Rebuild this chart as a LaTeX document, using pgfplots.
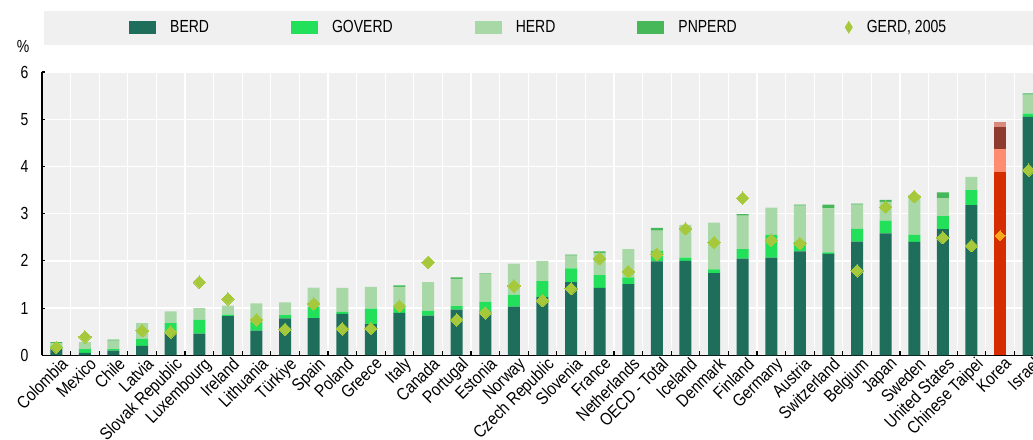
\documentclass[border=0pt]{standalone}
\usepackage{fontspec}
\setmainfont{Liberation Sans}[FakeStretch=0.8]
\newfontfamily\tickfont{Liberation Sans}[FakeStretch=0.86]
\usepackage{pgfplots}
\pgfplotsset{compat=1.18}
\definecolor{berd}{HTML}{1F6E5B}
\definecolor{gov}{HTML}{22E05A}
\definecolor{herd}{HTML}{A9D8A7}
\definecolor{pnp}{HTML}{47B85A}
\definecolor{gerd}{HTML}{A5C93A}
\definecolor{bggray}{HTML}{F0F0F0}
\definecolor{kberd}{HTML}{D62D00}
\definecolor{kgov}{HTML}{FF8C70}
\definecolor{kherd}{HTML}{8F3A2E}
\definecolor{kpnp}{HTML}{D98A7C}
\definecolor{korange}{HTML}{F7A81B}
\newcommand{\lbl}{\fontsize{17.5}{20}\selectfont}
\begin{document}
\begin{tikzpicture}[x=1pt,y=1pt]
\fill[bggray] (44,394) rectangle (1040,428);
\node[font=\lbl] at (23,393) {\%};
\begin{axis}[
  at={(42pt,83.7pt)}, anchor=south west,
  scale only axis, width=1001pt, height=283.3pt,
  xmin=-0.5, xmax=34.5, ymin=0, ymax=6,
  ybar stacked, bar width=12pt,
  axis background/.style={fill=bggray},
  axis x line*=bottom, axis y line*=left,
  axis line style={black, line width=1.3pt},
  ytick={0,1,2,3,4,5,6},
  ymajorgrids, major grid style={white, line width=1.3pt},
  xtick={0,...,34},
  minor xtick={-0.5,0.5,...,34.5},
  xminorgrids, minor x grid style={white, line width=1.3pt},
  major x tick style={draw=none},
  minor x tick style={black, line width=1.3pt},
  major y tick style={black, line width=1.1pt},
  tick align=inside, major tick length=3pt, minor tick length=4pt,
  /pgf/number format/assume math mode=true,
  yticklabel style={font=\lbl, xshift=-10pt},
  xticklabel style={font=\tickfont\lbl, rotate=45, anchor=north east, inner sep=1pt, yshift=-2pt, xshift=3pt},
  xticklabels={Colombia,Mexico,Chile,Latvia,Slovak Republic,Luxembourg,Ireland,Lithuania,Türkiye,Spain,Poland,Greece,Italy,Canada,Portugal,Estonia,Norway,Czech Republic,Slovenia,France,Netherlands,OECD - Total,Iceland,Denmark,Finland,Germany,Austria,Switzerland,Belgium,Japan,Sweden,United States,Chinese Taipei,Korea,Israel},
]
% BERD
\addplot[fill=berd, draw=none] coordinates {(0,0.14) (1,0.05) (2,0.10) (3,0.20) (4,0.47) (5,0.46) (6,0.83) (7,0.52) (8,0.78) (9,0.79) (10,0.88) (11,0.66) (12,0.90) (13,0.84) (14,0.97) (15,0.93) (16,1.03) (17,1.23) (18,1.55) (19,1.43) (20,1.51) (21,1.99) (22,2.00) (23,1.74) (24,2.05) (25,2.07) (26,2.20) (27,2.15) (28,2.41) (29,2.58) (30,2.40) (31,2.67) (32,3.18) (33,0) (34,5.05)};
% GOVERD
\addplot[fill=gov, draw=none] coordinates {(0,0.06) (1,0.08) (2,0.03) (3,0.15) (4,0.21) (5,0.29) (6,0.03) (7,0.18) (8,0.07) (9,0.23) (10,0.04) (11,0.33) (12,0.15) (13,0.10) (14,0.07) (15,0.20) (16,0.25) (17,0.34) (18,0.29) (19,0.27) (20,0.14) (21,0.22) (22,0.07) (23,0.08) (24,0.20) (25,0.48) (26,0.20) (27,0.03) (28,0.27) (29,0.27) (30,0.15) (31,0.28) (32,0.32) (33,0) (34,0.07)};
% HERD
\addplot[fill=herd, draw=none] coordinates {(0,0.06) (1,0.15) (2,0.18) (3,0.33) (4,0.25) (5,0.25) (6,0.19) (7,0.40) (8,0.27) (9,0.40) (10,0.51) (11,0.46) (12,0.40) (13,0.61) (14,0.58) (15,0.60) (16,0.66) (17,0.43) (18,0.27) (19,0.47) (20,0.60) (21,0.43) (22,0.69) (23,0.99) (24,0.71) (25,0.58) (26,0.77) (27,0.93) (28,0.51) (29,0.40) (30,0.85) (31,0.38) (32,0.28) (33,0) (34,0.40)};
% PNPERD
\addplot[fill=pnp, draw=none] coordinates {(0,0.02) (1,0) (2,0.02) (3,0) (4,0) (5,0) (6,0) (7,0) (8,0) (9,0.01) (10,0) (11,0) (12,0.03) (13,0) (14,0.03) (15,0.01) (16,0) (17,0) (18,0.02) (19,0.03) (20,0) (21,0.06) (22,0) (23,0) (24,0.03) (25,0) (26,0.02) (27,0.08) (28,0.02) (29,0.04) (30,0) (31,0.12) (32,0) (33,0) (34,0.03)};
% Korea highlighted
\addplot[fill=kberd, draw=none] coordinates {(0,0) (1,0) (2,0) (3,0) (4,0) (5,0) (6,0) (7,0) (8,0) (9,0) (10,0) (11,0) (12,0) (13,0) (14,0) (15,0) (16,0) (17,0) (18,0) (19,0) (20,0) (21,0) (22,0) (23,0) (24,0) (25,0) (26,0) (27,0) (28,0) (29,0) (30,0) (31,0) (32,0) (33,3.88) (34,0)};
\addplot[fill=kgov, draw=none] coordinates {(0,0) (1,0) (2,0) (3,0) (4,0) (5,0) (6,0) (7,0) (8,0) (9,0) (10,0) (11,0) (12,0) (13,0) (14,0) (15,0) (16,0) (17,0) (18,0) (19,0) (20,0) (21,0) (22,0) (23,0) (24,0) (25,0) (26,0) (27,0) (28,0) (29,0) (30,0) (31,0) (32,0) (33,0.49) (34,0)};
\addplot[fill=kherd, draw=none] coordinates {(0,0) (1,0) (2,0) (3,0) (4,0) (5,0) (6,0) (7,0) (8,0) (9,0) (10,0) (11,0) (12,0) (13,0) (14,0) (15,0) (16,0) (17,0) (18,0) (19,0) (20,0) (21,0) (22,0) (23,0) (24,0) (25,0) (26,0) (27,0) (28,0) (29,0) (30,0) (31,0) (32,0) (33,0.47) (34,0)};
\addplot[fill=kpnp, draw=none] coordinates {(0,0) (1,0) (2,0) (3,0) (4,0) (5,0) (6,0) (7,0) (8,0) (9,0) (10,0) (11,0) (12,0) (13,0) (14,0) (15,0) (16,0) (17,0) (18,0) (19,0) (20,0) (21,0) (22,0) (23,0) (24,0) (25,0) (26,0) (27,0) (28,0) (29,0) (30,0) (31,0) (32,0) (33,0.10) (34,0)};
\end{axis}
\begin{axis}[
  at={(42pt,83.7pt)}, anchor=south west,
  scale only axis, width=1001pt, height=283.3pt,
  xmin=-0.5, xmax=34.5, ymin=0, ymax=6,
  hide axis,
  legend columns=5,
  legend style={at={(rel axis cs:0.0869,1.1578)}, anchor=west, draw=none, fill=none, inner sep=0pt, font=\lbl,
    /tikz/every even column/.append style={column sep=80pt},
    /tikz/every odd column/.append style={column sep=12pt}},
]
\addlegendimage{legend image code/.code={\fill[berd, draw=none] (0pt,-6.3pt) rectangle (27pt,6.3pt);}}
\addlegendentry{BERD}
\addlegendimage{legend image code/.code={\fill[gov, draw=none] (0pt,-6.3pt) rectangle (27pt,6.3pt);}}
\addlegendentry{GOVERD}
\addlegendimage{legend image code/.code={\fill[herd, draw=none] (0pt,-6.3pt) rectangle (27pt,6.3pt);}}
\addlegendentry{HERD}
\addlegendimage{legend image code/.code={\fill[pnp, draw=none] (0pt,-6.3pt) rectangle (27pt,6.3pt);}}
\addlegendentry{PNPERD}
\addlegendimage{legend image code/.code={\path[draw=none] (-30pt,0pt) -- (0pt,0pt); \fill[gerd, draw=none] (0pt,6.5pt) -- (4pt,0pt) -- (0pt,-6.5pt) -- (-4pt,0pt) -- cycle;}}
\addlegendentry{GERD, 2005}
\addplot[only marks, color=gerd, mark=square*, mark size=4.4pt, mark options={fill=gerd, draw=gerd, line width=0pt, rotate=45}, forget plot] coordinates {(0,0.17) (1,0.39) (3,0.52) (4,0.49) (5,1.55) (6,1.19) (7,0.75) (8,0.55) (9,1.09) (10,0.56) (11,0.57) (12,1.04) (13,1.97) (14,0.75) (15,0.90) (16,1.47) (17,1.16) (18,1.41) (19,2.05) (20,1.77) (21,2.14) (22,2.68) (23,2.39) (24,3.33) (25,2.44) (26,2.37) (28,1.79) (29,3.14) (30,3.36) (31,2.49) (32,2.32) (34,3.92)};
\addplot[only marks, color=korange, mark=square*, mark size=3.5pt, mark options={fill=korange, draw=korange, line width=0pt, rotate=45}, forget plot] coordinates {(33,2.53)};
\end{axis}
\pgfresetboundingbox
\path[use as bounding box] (0,0) rectangle (1033,439);
\end{tikzpicture}
\end{document}
